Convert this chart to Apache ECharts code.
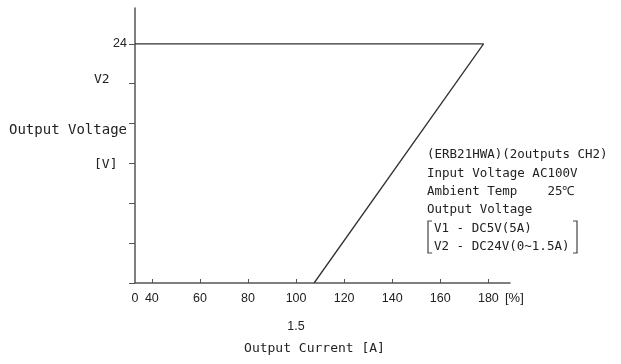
<!DOCTYPE html>
<html>
<head>
<meta charset="utf-8">
<script src="https://cdn.jsdelivr.net/npm/echarts@6/dist/echarts.min.js"></script>
<style>
	html, body { margin: 0; padding: 0; background: #fff; }
	#main { width: 621px; height: 364px; }
</style>
</head>
<body>
<div id="main"></div>
<script>
// x axis is broken: left end is labelled 0 but sits just before 40 %
var xMin = 33;
var xMax = 189;
var xTicks = [40, 60, 80, 100, 120, 140, 160, 180];
var yTicks = [0, 4, 8, 12, 16, 20, 24];
var yLabels = [24];

// derating curve (load % , output voltage V)
var loadPct = [33, 178, 107.5];
var voltage = [24, 24, 0];

var monoFont = 'DejaVu Sans Mono';
var textColor = '#222';

var dom = document.getElementById("main");
var myChart = echarts.init(dom);

var points = [];
for (var i = 0; i < loadPct.length; i++) {
	points.push([loadPct[i], voltage[i]]);
}

var infoLines = [
	'(ERB21HWA)(2outputs CH2)',
	'Input Voltage AC100V',
	'Ambient Temp    25\u2103',
	'Output Voltage',
	'V1 - DC5V(5A)',
	'V2 - DC24V(0~1.5A)'
];
var infoY = [155, 174, 192, 210, 229, 247];

var graphics = [];
for (var j = 0; j < infoLines.length; j++) {
	graphics.push({
		type : 'text',
		left : j >= 4 ? 434 : 427,
		top : infoY[j] - 7,
		style : { text : infoLines[j], font : '12.5px ' + monoFont, fill : textColor }
	});
}
// brackets around V1 / V2
graphics.push({
	type : 'polyline',
	shape : { points : [ [432, 221], [428, 221], [428, 253], [432, 253] ] },
	style : { stroke : '#444', lineWidth : 1.2, fill : null }
});
graphics.push({
	type : 'polyline',
	shape : { points : [ [573, 221], [577, 221], [577, 253], [573, 253] ] },
	style : { stroke : '#444', lineWidth : 1.2, fill : null }
});
// y axis side texts
graphics.push({
	type : 'text', left : 94, top : 73,
	style : { text : 'V2', font : '13px ' + monoFont, fill : textColor }
});
graphics.push({
	type : 'text', left : 9, top : 123,
	style : { text : 'Output Voltage', font : '14px ' + monoFont, fill : textColor }
});
graphics.push({
	type : 'text', left : 94, top : 158,
	style : { text : '[V]', font : '13px ' + monoFont, fill : textColor }
});
graphics.push({
	type : 'text', left : 505, top : 292,
	style : { text : '[%]', font : '13px Liberation Sans', fill : textColor }
});

option = {
	animation : false,
	grid : {
		left : 135,
		right : 111,
		top : 8,
		bottom : 81
	},
	xAxis : {
		type : 'value',
		min : xMin,
		max : xMax,
		name : 'Output Current [A]',
		nameLocation : 'middle',
		nameGap : 59,
		nameTextStyle : { fontFamily : monoFont, fontSize : 13, color : textColor, padding : [0, 16, 0, 0] },
		splitLine : { show : false },
		axisLine : { lineStyle : { color : '#555', width : 1.5 } },
		axisTick : {
			inside : true,
			length : 4,
			customValues : xTicks,
			lineStyle : { color : '#555' }
		},
		axisLabel : {
			customValues : [xMin].concat(xTicks),
			margin : 9,
			fontFamily : 'Liberation Sans',
			fontSize : 12.5,
			color : textColor,
			lineHeight : 14,
			formatter : function(v) {
				if (v == xMin) return '0';
				if (v == 100) return '100\n\n1.5';
				return String(v);
			}
		}
	},
	yAxis : {
		type : 'value',
		min : 0,
		max : 27.6,
		splitLine : { show : false },
		axisLine : { show : true, lineStyle : { color : '#555', width : 1.5 } },
		axisTick : {
			show : true,
			length : 6,
			customValues : yTicks,
			lineStyle : { color : '#555' }
		},
		axisLabel : {
			customValues : yLabels,
			margin : 8,
			fontFamily : 'Liberation Sans',
			fontSize : 12.5,
			color : textColor
		}
	},
	graphic : graphics,
	series : [ {
		type : 'line',
		data : points,
		symbol : 'none',
		lineStyle : { color : '#333', width : 1.3 }
	} ]
};

if (option && typeof option === "object") {
	myChart.setOption(option, true);
}
</script>
</body>
</html>
